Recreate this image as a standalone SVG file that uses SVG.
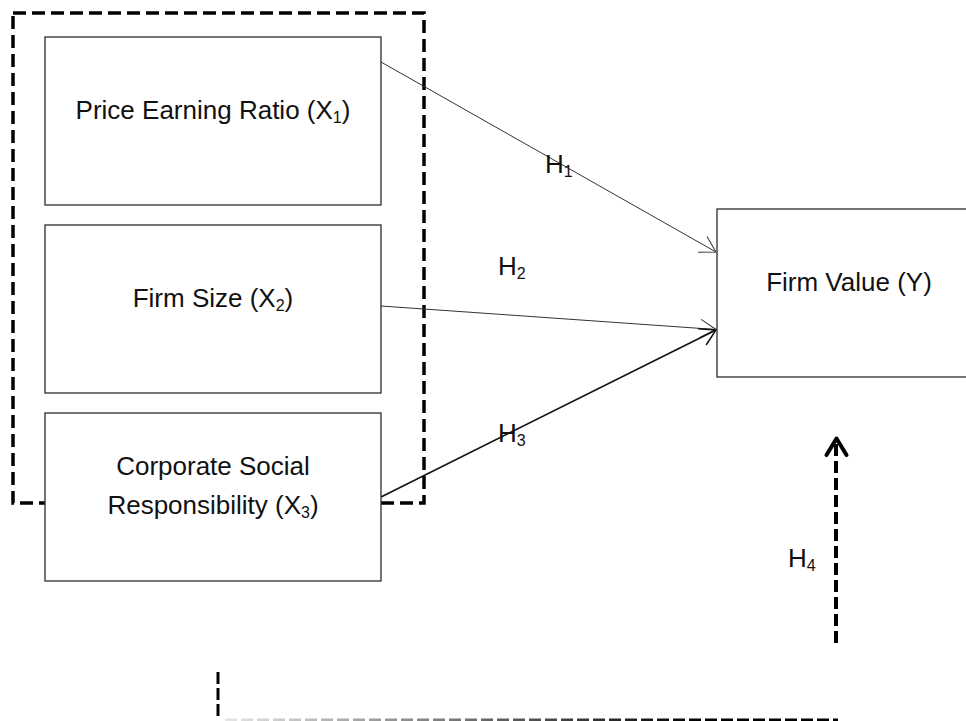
<svg xmlns="http://www.w3.org/2000/svg" width="966" height="721" viewBox="0 0 966 721">
<style>
.box{fill:#fff;stroke:#2b2b2b;stroke-width:1.3}
.lbl{font-family:"Liberation Sans","Open Sans",sans-serif;font-size:26px;fill:#111;text-anchor:middle}
.h{font-family:"Liberation Sans","Open Sans",sans-serif;font-size:26px;fill:#111}
.sub{font-size:16px}
.thin{fill:none;stroke:#333;stroke-width:1}
.mid{fill:none;stroke:#111;stroke-width:1.6}
.dash{fill:none;stroke:#000;stroke-width:3.5;stroke-dasharray:13 6}
</style>
<defs>
<marker id="ah" markerUnits="userSpaceOnUse" orient="auto" refX="0" refY="0" overflow="visible">
<path d="M-15.5,-9 L0,0 L-15.5,9" fill="none" stroke="#333" stroke-width="1"/>
</marker>
<marker id="ah2" markerUnits="userSpaceOnUse" orient="auto" refX="0" refY="0" overflow="visible">
<path d="M-15.5,-9 L0,0 L-15.5,9" fill="none" stroke="#111" stroke-width="1.5"/>
</marker>
<linearGradient id="fade" gradientUnits="userSpaceOnUse" x1="225" y1="0" x2="700" y2="0">
<stop offset="0" stop-color="#e6e6e6"/>
<stop offset="1" stop-color="#000"/>
</linearGradient>
</defs>

<g id="moderation-frame">
<rect x="13" y="13" width="411" height="490" class="dash"/>
</g>

<g id="connectors">
<line x1="381" y1="62" x2="716" y2="252" class="thin" marker-end="url(#ah)"/>
<line x1="381" y1="306" x2="716" y2="329.5" class="thin" marker-end="url(#ah)"/>
<line x1="381" y1="497" x2="716" y2="330" class="mid" marker-end="url(#ah2)"/>
<line x1="836" y1="643" x2="836" y2="442" fill="none" stroke="#000" stroke-width="4" stroke-dasharray="12 5"/>
<polyline points="826.5,455 836.5,438.5 846.5,455" fill="none" stroke="#000" stroke-width="4" stroke-linecap="round" stroke-linejoin="round"/>
<line x1="218" y1="672" x2="218" y2="716" fill="none" stroke="#000" stroke-width="3" stroke-dasharray="12 4"/>
<line x1="225" y1="720" x2="838" y2="720" fill="none" stroke="url(#fade)" stroke-width="3" stroke-dasharray="12 4"/>
</g>

<g id="node-x1">
<rect x="45" y="37" width="336" height="168" class="box"/>
<text x="213" y="119" class="lbl">Price Earning Ratio (X<tspan class="sub" dy="4">1</tspan><tspan dy="-4">)</tspan></text>
</g>
<g id="node-x2">
<rect x="45" y="225" width="336" height="168" class="box"/>
<text x="213" y="307" class="lbl">Firm Size (X<tspan class="sub" dy="4">2</tspan><tspan dy="-4">)</tspan></text>
</g>
<g id="node-x3">
<rect x="45" y="413" width="336" height="168" class="box"/>
<text x="213" y="475" class="lbl">Corporate Social</text>
<text x="213" y="514" class="lbl">Responsibility (X<tspan class="sub" dy="4">3</tspan><tspan dy="-4">)</tspan></text>
</g>
<g id="node-y">
<rect x="717" y="209" width="280" height="168" class="box"/>
<text x="849" y="291" class="lbl">Firm Value (Y)</text>
</g>

<g id="labels">
<text x="545" y="173" class="h">H<tspan class="sub" dy="4">1</tspan></text>
<text x="498" y="275" class="h">H<tspan class="sub" dy="4">2</tspan></text>
<text x="498" y="442" class="h">H<tspan class="sub" dy="4">3</tspan></text>
<text x="788" y="567" class="h">H<tspan class="sub" dy="4">4</tspan></text>
</g>
</svg>
